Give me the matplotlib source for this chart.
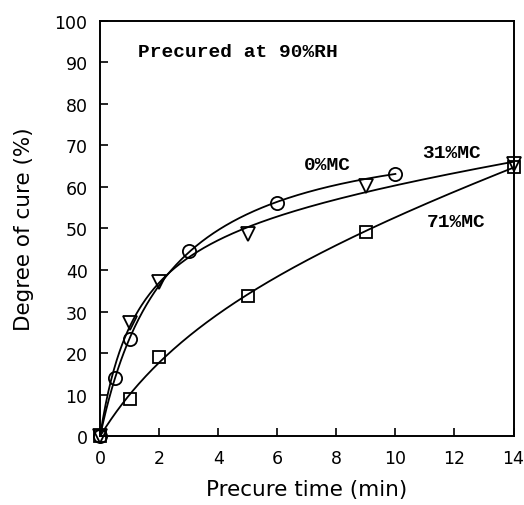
import numpy as np
import matplotlib
matplotlib.use("Agg")
import matplotlib.pyplot as plt

# Degree of cure vs precure time, precured at 90%RH
t_0mc = [0, 0.5, 1, 3, 6, 10]
cure_0mc = [0, 14, 23.3, 44.5, 56.2, 63.2]

t_31mc = [0, 1, 2, 5, 9, 14]
cure_31mc = [0, 27.2, 37, 48.6, 60.3, 65.6]

t_71mc = [0, 1, 2, 5, 9, 14]
cure_71mc = [0, 9, 19, 33.8, 49.2, 64.8]


def fit_curve(t, y, ts):
    # rational fit y = (a t + b t^2) / (1 + c t), reweighted least squares
    t = np.asarray(t, float)
    y = np.asarray(y, float)
    w = np.ones_like(t)
    for _ in range(20):
        A = np.column_stack([t, t**2, -t * y]) / w[:, None]
        (a, b, c), *_ = np.linalg.lstsq(A, y / w, rcond=None)
        w = 1 + c * t
    return (a * ts + b * ts**2) / (1 + c * ts)


fig = plt.figure(figsize=(5.24, 5.06), dpi=100)
ax = fig.add_axes([0.191, 0.136, 0.789, 0.821])

series = [(t_0mc, cure_0mc, 'o', 9.5),
          (t_31mc, cure_31mc, 'v', 9.5),
          (t_71mc, cure_71mc, 's', 8)]
for t, c, mk, ms in series:
    ts = np.linspace(t[0], t[-1], 300)
    ax.plot(ts, fit_curve(t, c, ts), color='black', lw=1.3)
    ax.plot(t, c, linestyle='none', marker=mk, ms=ms, mfc='none',
            mec='black', mew=1.3, clip_on=False)

ax.set_xlim(0, 14)
ax.set_ylim(0, 100)
ax.set_xticks(np.arange(0, 15, 2))
ax.set_yticks(np.arange(0, 101, 10))
ax.tick_params(direction='in', length=6, width=1.2, labelsize=12.5, pad=9)
for sp in ax.spines.values():
    sp.set_linewidth(1.4)

ax.set_xlabel('Precure time (min)', fontsize=15.5, labelpad=9)
ax.set_ylabel('Degree of cure (%)', fontsize=15.5, labelpad=15)

mono = dict(family='Liberation Mono', fontweight='bold', fontsize=14)
ax.text(1.28, 92.5, 'Precured at 90%RH', va='center', **mono)
ax.text(6.9, 65.3, '0%MC', va='center', **mono)
ax.text(10.9, 68.3, '31%MC', va='center', **mono)
ax.text(11.05, 51.7, '71%MC', va='center', **mono)

fig.savefig('out.png', dpi=100)
